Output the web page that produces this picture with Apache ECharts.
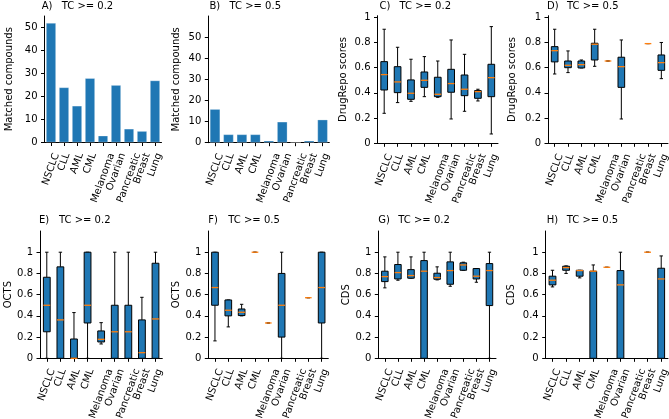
<!DOCTYPE html>
<html><head><meta charset="utf-8">
<script src="https://cdn.jsdelivr.net/npm/echarts@6/dist/echarts.min.js"></script>
<style>html,body{margin:0;padding:0;background:#fff}#c{width:669px;height:419px}</style>
</head><body><div id="c"></div>
<script>
const categories = ['NSCLC','CLL','AML','CML','Melanoma','Ovarian','Pancreatic','Breast','Lung'];
const countsTC02 = [52,24,16,28,3,25,6,5,27];
const countsTC05 = [16,4,4,4,1,10,0,1,11];
const countTicks = [0,10,20,30,40,50];
const scoreTicks = [0,0.2,0.4,0.6,0.8,1];
// box stats: [min, q1, median, q3, max]; null = no data
const drugRepoTC02 = [
  [0.238,0.423,0.545,0.648,0.905],
  [0.323,0.402,0.487,0.608,0.762],
  [0.333,0.349,0.397,0.503,0.667],
  [0.370,0.444,0.500,0.566,0.688],
  [0.365,0.370,0.389,0.524,0.653],
  [0.193,0.405,0.474,0.587,0.820],
  [0.254,0.378,0.429,0.542,0.706],
  [0.336,0.357,0.410,0.418,0.429],
  [0.074,0.370,0.521,0.627,0.926]
];
const drugRepoTC05 = [
  [0.550,0.646,0.735,0.767,0.905],
  [0.561,0.600,0.619,0.653,0.733],
  [0.598,0.598,0.624,0.653,0.661],
  [0.611,0.661,0.786,0.794,0.905],
  [0.653,0.653,0.653,0.653,0.653],
  [0.193,0.444,0.608,0.683,0.820],
  null,
  [0.791,0.791,0.791,0.791,0.791],
  [0.513,0.579,0.640,0.701,0.800]
];
const octsTC02 = [
  [0,0.25,0.5,0.764,1],
  [0,0,0.362,0.862,1],
  [0,0,0,0.182,0.431],
  [0,0.333,0.5,1,1],
  [0.135,0.154,0.179,0.258,0.336],
  [0,0,0.25,0.5,1],
  [0,0,0.25,0.5,1],
  [0,0,0.053,0.362,0.575],
  [0,0,0.371,0.896,1]
];
const octsTC05 = [
  [0.164,0.5,0.667,1,1],
  [0.296,0.4,0.453,0.55,0.55],
  [0.4,0.403,0.434,0.465,0.509],
  [1,1,1,1,1],
  [0.333,0.333,0.333,0.333,0.333],
  [0,0.2,0.5,0.8,1],
  null,
  [0.571,0.571,0.571,0.571,0.571],
  [0,0.333,0.667,1,1]
];
const cdsTC02 = [
  [0.664,0.723,0.770,0.821,0.956],
  [0.736,0.748,0.808,0.884,1],
  [0.755,0.755,0.780,0.836,0.956],
  [0,0,0.821,0.921,1],
  [0.739,0.745,0.761,0.802,0.862],
  [0.679,0.698,0.827,0.909,1],
  [0.830,0.830,0.880,0.900,0.906],
  [0.717,0.748,0.774,0.846,0.846],
  [0,0.497,0.827,0.893,1]
];
const cdsTC05 = [
  [0.673,0.692,0.736,0.774,0.830],
  [0.800,0.830,0.855,0.868,0.871],
  [0.758,0.774,0.827,0.830,0.830],
  [0,0,0.821,0.821,0.880],
  [0.858,0.858,0.858,0.858,0.858],
  [0,0,0.692,0.827,1],
  null,
  [1,1,1,1,1],
  [0,0,0.748,0.849,0.965]
];

const FONT = '"DejaVu Sans", sans-serif';
const BLUE = '#1f77b4', ORANGE = '#ff7f0e';

const panels = [
  {letter:'A)', sub:'TC >= 0.2', kind:'bar', data:countsTC02, yName:'Matched compounds', ticks:countTicks, max:55,
   g:{left:44.5, top:16, width:117, height:126.5}, nameGap:30, tx:41.7, ty:6.5},
  {letter:'B)', sub:'TC >= 0.5', kind:'bar', data:countsTC05, yName:'Matched compounds', ticks:countTicks, max:60.2,
   g:{left:208.3, top:16, width:121, height:126.7}, nameGap:27, tx:209.5, ty:6.5},
  {letter:'C)', sub:'TC >= 0.2', kind:'box', data:drugRepoTC02, yName:'DrugRepo scores', ticks:scoreTicks, max:1.0125,
   g:{left:377.5, top:15.7, width:120.5, height:127.6}, nameGap:29, tx:379.5, ty:6.5},
  {letter:'D)', sub:'TC >= 0.5', kind:'box', data:drugRepoTC05, yName:'DrugRepo scores', ticks:scoreTicks, max:1.0125,
   g:{left:548, top:15.7, width:120, height:127.6}, nameGap:31, tx:547, ty:6.5},
  {letter:'E)', sub:'TC >= 0.2', kind:'box', data:octsTC02, yName:'OCTS', ticks:scoreTicks, max:1.2,
   g:{left:40, top:231, width:122.3, height:127.3}, nameGap:23, tx:39, ty:220.5},
  {letter:'F)', sub:'TC >= 0.5', kind:'box', data:octsTC05, yName:'OCTS', ticks:scoreTicks, max:1.2,
   g:{left:208.3, top:231, width:120, height:127.3}, nameGap:26.5, tx:208.3, ty:220.5},
  {letter:'G)', sub:'TC >= 0.2', kind:'box', data:cdsTC02, yName:'CDS', ticks:scoreTicks, max:1.2,
   g:{left:378.3, top:231, width:117.7, height:127.3}, nameGap:26.5, tx:378.3, ty:220.5},
  {letter:'H)', sub:'TC >= 0.5', kind:'box', data:cdsTC05, yName:'CDS', ticks:scoreTicks, max:1.2,
   g:{left:545.7, top:231, width:122.3, height:127.3}, nameGap:29.5, tx:546.7, ty:220.5}
];

// x label placement mimicking matplotlib centred rotated labels
const ROT = 70, rad = ROT * Math.PI / 180, S = Math.sin(rad), C = Math.cos(rad);
const LABEL_MARGIN = 8, LABEL_Y0 = 11;
const mctx = document.createElement('canvas').getContext('2d');
mctx.font = '10px ' + FONT;
const rich = {};
categories.forEach((name, i) => {
  const w = mctx.measureText(name).width;
  const dy = LABEL_Y0 + (w / 2) * S - LABEL_MARGIN;
  rich['c' + i] = {fontSize:10, fontFamily:FONT, color:'#000',
    padding:[2 * C * dy, 2 * S * dy, 0, 0]};
});

function boxRender(params, api) {
  const i = api.value(0);
  const v = [1,2,3,4,5].map(k => api.value(k));
  const band = api.size([1, 0])[0];
  const bw = band * 0.5, cw = band * 0.25;
  const pts = v.map(val => api.coord([i, val]));
  const x = pts[0][0];
  const y = pts.map(p => p[1]);
  const ln = (x1, y1, x2, y2, color, w) => ({type:'line', shape:{x1, y1, x2, y2},
    style:{stroke:color, lineWidth:w}});
  const ch = [
    ln(x, y[3], x, y[4], '#000', 1),
    ln(x, y[1], x, y[0], '#000', 1),
    ln(x - cw/2, y[4], x + cw/2, y[4], '#000', 1),
    ln(x - cw/2, y[0], x + cw/2, y[0], '#000', 1)
  ];
  if (y[1] - y[3] > 0.5) {
    ch.push({type:'rect', shape:{x:x - bw/2, y:y[3], width:bw, height:y[1] - y[3]},
      style:{fill:BLUE, stroke:'#000', lineWidth:1}});
  }
  ch.push(ln(x - bw/2, y[2], x + bw/2, y[2], ORANGE, 1.3));
  return {type:'group', children:ch};
}

const grid = [], xAxis = [], yAxis = [], series = [], graphic = [];
panels.forEach((p, gi) => {
  grid.push(Object.assign({containLabel:false, outerBoundsMode:'none'}, p.g));
  xAxis.push({gridIndex:gi, type:'category', data:categories, boundaryGap:true,
    axisLine:{show:true, lineStyle:{color:'#000', width:1}},
    axisTick:{show:true, alignWithLabel:true, interval:0, length:3.5, lineStyle:{color:'#000', width:1}},
    axisLabel:{interval:0, rotate:ROT, margin:LABEL_MARGIN, align:'center', verticalAlign:'middle',
      fontSize:10, fontFamily:FONT, color:'#000', hideOverlap:false,
      formatter:(val, idx) => '{c' + idx + '|' + val + '}', rich:rich},
    splitLine:{show:false}});
  yAxis.push({gridIndex:gi, type:'value', min:0, max:p.max,
    axisLine:{show:true, lineStyle:{color:'#000', width:1}},
    axisTick:{show:true, length:3.5, customValues:p.ticks, lineStyle:{color:'#000', width:1}},
    axisLabel:{customValues:p.ticks, margin:7, fontSize:10, fontFamily:FONT, color:'#000',
      formatter:v => String(+(+v).toFixed(2))},
    splitLine:{show:false},
    name:p.yName, nameLocation:'middle', nameGap:p.nameGap,
    nameTextStyle:{fontSize:10, fontFamily:FONT, color:'#000'}});
  if (p.kind === 'bar') {
    series.push({type:'bar', xAxisIndex:gi, yAxisIndex:gi, data:p.data, barWidth:'78%',
      itemStyle:{color:BLUE, borderColor:'rgba(255,255,255,0.35)', borderWidth:0.8},
      silent:true, animation:false});
  } else {
    const d = [];
    p.data.forEach((s, i) => { if (s) d.push([i].concat(s)); });
    series.push({type:'custom', xAxisIndex:gi, yAxisIndex:gi, data:d, renderItem:boxRender,
      encode:{x:0, y:[1,2,3,4,5]}, clip:false, silent:true, animation:false});
  }
  graphic.push({type:'text', x:p.tx, y:p.ty, silent:true,
    style:{text:p.letter, font:'10px ' + FONT, fill:'#000', verticalAlign:'middle', align:'left'}});
  graphic.push({type:'text', x:p.tx + 20, y:p.ty, silent:true,
    style:{text:p.sub, font:'10px ' + FONT, fill:'#000', verticalAlign:'middle', align:'left'}});
});

const chart = echarts.init(document.getElementById('c'), null, {renderer:'canvas'});
chart.setOption({animation:false, backgroundColor:'#fff', grid, xAxis, yAxis, series, graphic});
</script></body></html>
